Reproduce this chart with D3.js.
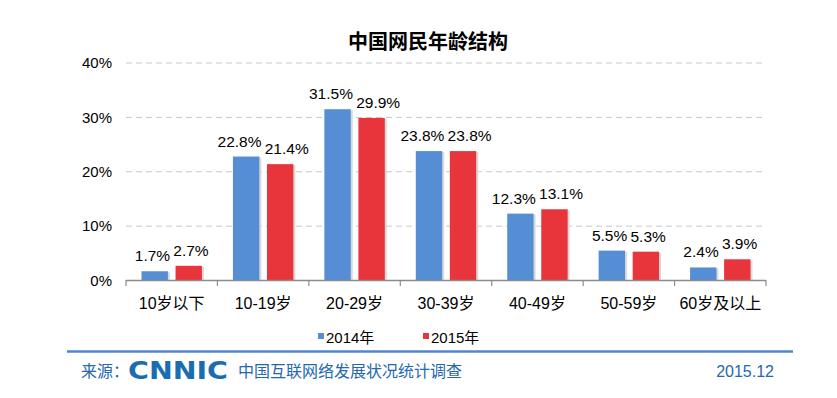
<!DOCTYPE html>
<html><head><meta charset="utf-8">
<script src="https://cdn.jsdelivr.net/npm/d3@7"></script>
<style>body{margin:0;background:#fff}svg{display:block}</style>
</head><body>
<svg id="c" width="837" height="398"></svg>
<script>
const categories = ["10岁以下","10-19岁","20-29岁","30-39岁","40-49岁","50-59岁","60岁及以上"];
const seriesNames = ["2014年","2015年"];
const values2014 = [1.7,22.8,31.5,23.8,12.3,5.5,2.4];
const values2015 = [2.7,21.4,29.9,23.8,13.1,5.3,3.9];
const yTicks = [0,10,20,30,40];
const colors = ["#558ED5","#E8353B"];
const title = "中国网民年龄结构";

const svg = d3.select("#c");
const latin = "'Liberation Sans', Arial, 'Noto Sans CJK SC', sans-serif";
const cjk = "'Liberation Sans','Noto Sans CJK SC', sans-serif";

const x0 = d3.scaleBand().domain(categories).range([126,766]).padding(0);
const x1 = d3.scaleBand().domain(seriesNames).range([15.5, x0.bandwidth()-15.5]).paddingInner(0.225);
const y = d3.scaleLinear().domain([0,40]).range([280.5,63]);

// title
svg.append("text").attr("x",428).attr("y",49).attr("text-anchor","middle")
  .attr("font-family","'Noto Sans CJK SC', sans-serif").attr("font-weight","bold").attr("font-size",20).attr("fill","#000").text(title);

// grid
svg.append("g").selectAll("line").data(yTicks.filter(d=>d>0)).join("line")
  .attr("x1",126).attr("x2",766).attr("y1",d=>y(d)).attr("y2",d=>y(d))
  .attr("stroke","#c8c8c8").attr("stroke-dasharray","6,4").attr("stroke-width",1);

// y axis labels
const yAxis = d3.axisLeft(y).tickValues(yTicks).tickFormat(d=>d+"%").tickSize(0).tickPadding(0);
const ya = svg.append("g").attr("transform","translate(112,0)").call(yAxis);
ya.select(".domain").remove();
ya.selectAll("text").attr("font-family",latin).attr("font-size",15).attr("fill","#000");

// bars
const data = categories.map((c,i)=>({c, vals:[values2014[i],values2015[i]]}));
const groups = svg.append("g").selectAll("g").data(data).join("g").attr("transform",d=>`translate(${x0(d.c)},0)`);
const items = d=>d.vals.map((v,j)=>({v,s:seriesNames[j],j}));
groups.selectAll("rect.sh").data(items).join("rect")
  .attr("class","sh").attr("x",d=>x1(d.s)+2).attr("y",d=>y(d.v)+1).attr("width",x1.bandwidth()).attr("height",d=>y(0)-y(d.v)-1)
  .attr("fill","#d9d9d9");
groups.selectAll("rect.b").data(items).join("rect")
  .attr("class","b").attr("x",d=>x1(d.s)).attr("y",d=>y(d.v)).attr("width",x1.bandwidth()).attr("height",d=>y(0)-y(d.v))
  .attr("fill",d=>colors[d.j]);
groups.each(function(){
  const g = d3.select(this);
  const t = g.selectAll("text").data(items).join("text")
    .attr("x",d=>x1(d.s)+x1.bandwidth()/2).attr("y",d=>y(d.v)-10).attr("text-anchor","middle")
    .attr("font-family",latin).attr("font-size",15.5).attr("fill","#000").text(d=>d.v.toFixed(1)+"%");
  // push labels apart horizontally if they collide
  const nodes = t.nodes();
  const b0 = nodes[0].getBBox(), b1 = nodes[1].getBBox();
  const vOverlap = !(b0.y + b0.height < b1.y || b1.y + b1.height < b0.y);
  const over = b0.x + b0.width + 3 - b1.x;
  if (vOverlap && over > 0) {
    d3.select(nodes[0]).attr("x", +nodes[0].getAttribute("x") - over/2);
    d3.select(nodes[1]).attr("x", +nodes[1].getAttribute("x") + over/2);
  }
});

// x axis
svg.append("line").attr("x1",126).attr("x2",766).attr("y1",280.5).attr("y2",280.5).attr("stroke","#8c8c8c").attr("stroke-width",1.5);
const bounds = categories.map(c=>x0(c)).concat([x0.range()[1]]);
svg.append("g").selectAll("line").data(bounds).join("line")
  .attr("x1",d=>d).attr("x2",d=>d).attr("y1",280).attr("y2",286).attr("stroke","#8c8c8c").attr("stroke-width",1.2);
svg.append("g").selectAll("text").data(categories).join("text")
  .attr("x",d=>x0(d)+x0.bandwidth()/2).attr("y",309).attr("text-anchor","middle")
  .attr("font-family",cjk).attr("font-size",16).attr("fill","#000").text(d=>d);

// legend
const leg = svg.append("g");
const legX = [318, 423];
seriesNames.forEach((s,i)=>{
  leg.append("rect").attr("x",legX[i]).attr("y",333).attr("width",6).attr("height",6).attr("fill",colors[i]);
  leg.append("text").attr("x",legX[i]+8).attr("y",343).attr("font-family",cjk).attr("font-size",15).attr("fill","#000").text(s);
});

// footer
svg.append("line").attr("x1",67).attr("x2",793).attr("y1",351.5).attr("y2",351.5).attr("stroke","#4F86CF").attr("stroke-width",2.5);
svg.append("text").attr("x",81).attr("y",377).attr("font-family","'Noto Sans CJK SC', sans-serif").attr("font-size",16).attr("fill","#2468B0").text("来源：");
svg.append("text").attr("x",128).attr("y",379).attr("font-family","'DejaVu Sans'").attr("font-weight","bold").attr("font-size",24)
  .attr("textLength",100).attr("lengthAdjust","spacingAndGlyphs").attr("fill","#1A6DB1").text("CNNIC");
svg.append("text").attr("x",238).attr("y",377).attr("font-family","'Noto Sans CJK SC', sans-serif").attr("font-size",16).attr("fill","#2468B0").text("中国互联网络发展状况统计调查");
svg.append("text").attr("x",774).attr("y",377).attr("text-anchor","end").attr("font-family",latin).attr("font-size",16).attr("fill","#2468B0").text("2015.12");
</script>
</body></html>
